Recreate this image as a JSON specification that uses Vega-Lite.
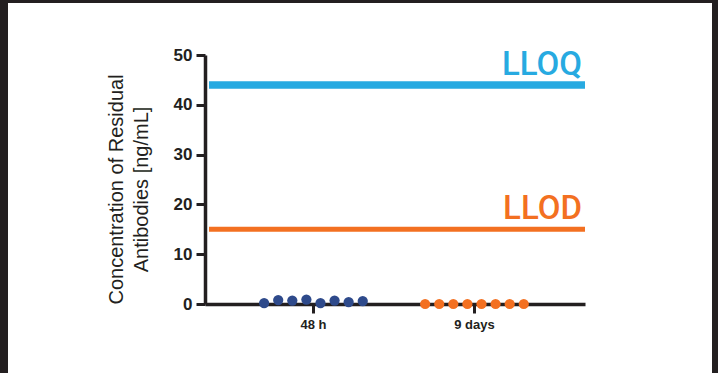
{
  "$schema": "https://vega.github.io/schema/vega-lite/v6.json",
  "width": 704,
  "height": 370,
  "autosize": {"type": "none"},
  "padding": {"left": 8, "top": 3, "right": 6, "bottom": 0},
  "background": "#231f20",
  "config": {"view": {"fill": "white", "stroke": null}},
  "resolve": {"scale": {"x": "independent", "color": "independent"}},
  "layer": [
    {
      "data": {
        "values": [
          {"group": "48 h", "rep": 1, "value": 0.2},
          {"group": "48 h", "rep": 2, "value": 0.8},
          {"group": "48 h", "rep": 3, "value": 0.7},
          {"group": "48 h", "rep": 4, "value": 0.9},
          {"group": "48 h", "rep": 5, "value": 0.2},
          {"group": "48 h", "rep": 6, "value": 0.7},
          {"group": "48 h", "rep": 7, "value": 0.4},
          {"group": "48 h", "rep": 8, "value": 0.6},
          {"group": "9 days", "rep": 1, "value": 0},
          {"group": "9 days", "rep": 2, "value": 0},
          {"group": "9 days", "rep": 3, "value": 0},
          {"group": "9 days", "rep": 4, "value": 0},
          {"group": "9 days", "rep": 5, "value": 0},
          {"group": "9 days", "rep": 6, "value": 0},
          {"group": "9 days", "rep": 7, "value": 0},
          {"group": "9 days", "rep": 8, "value": 0}
        ]
      },
      "mark": {"type": "circle", "size": 105, "opacity": 1},
      "encoding": {
        "x": {
          "field": "group",
          "type": "nominal",
          "sort": ["48 h", "9 days"],
          "scale": {"type": "band", "range": [197, 577], "paddingInner": 0.3, "paddingOuter": 0.33, "align": 0.49},
          "axis": {
            "orient": "bottom",
            "offset": -69,
            "title": null,
            "labelAngle": 0,
            "domainColor": "#231f20",
            "domainWidth": 3.5,
            "tickColor": "#231f20",
            "tickWidth": 3,
            "tickSize": 9,
            "labelFont": "Liberation Sans",
            "labelFontWeight": "bold",
            "labelFontSize": 13,
            "labelColor": "#231f20",
            "labelPadding": 5
          }
        },
        "xOffset": {"field": "rep", "type": "nominal"},
        "y": {
          "field": "value",
          "type": "quantitative",
          "scale": {"domain": [0, 50], "range": [301, 52], "nice": false, "zero": true},
          "axis": {
            "orient": "left",
            "offset": -197,
            "values": [0, 10, 20, 30, 40, 50],
            "grid": false,
            "domainColor": "#231f20",
            "domainWidth": 3.5,
            "tickColor": "#231f20",
            "tickWidth": 3,
            "tickSize": 9,
            "labelFont": "Liberation Sans",
            "labelFontWeight": "bold",
            "labelFontSize": 17,
            "labelColor": "#231f20",
            "labelPadding": 4,
            "title": ["Concentration of Residual", "Antibodies [ng/mL]"],
            "titleFont": "Liberation Sans",
            "titleFontSize": 20,
            "titleFontWeight": "normal",
            "titleColor": "#231f20",
            "titleLineHeight": 25,
            "titlePadding": 22,
            "titleY": 186
          }
        },
        "color": {
          "field": "group",
          "type": "nominal",
          "scale": {"domain": ["48 h", "9 days"], "range": ["#2e4a8b", "#f37021"]},
          "legend": null
        }
      }
    },
    {
      "data": {
        "values": [
          {"label": "LLOQ", "value": 44},
          {"label": "LLOD", "value": 15}
        ]
      },
      "encoding": {
        "y": {"field": "value", "type": "quantitative"},
        "color": {
          "field": "label",
          "type": "nominal",
          "scale": {"domain": ["LLOQ", "LLOD"], "range": ["#27aae1", "#f37021"]},
          "legend": null
        }
      },
      "layer": [
        {
          "mark": {"type": "rule"},
          "encoding": {
            "x": {"datum": 0, "type": "quantitative", "scale": {"domain": [0, 1], "range": [201, 577]}, "axis": null},
            "x2": {"datum": 1},
            "strokeWidth": {
              "field": "label",
              "type": "nominal",
              "scale": {"domain": ["LLOQ", "LLOD"], "range": [7.5, 5]},
              "legend": null
            }
          }
        },
        {
          "mark": {"type": "text", "align": "right", "baseline": "alphabetic", "dy": -10, "dx": -3, "font": "Roboto", "fontSize": 33, "fontWeight": 500},
          "encoding": {
            "x": {"datum": 1, "type": "quantitative"},
            "text": {"field": "label"}
          }
        }
      ]
    }
  ]
}
